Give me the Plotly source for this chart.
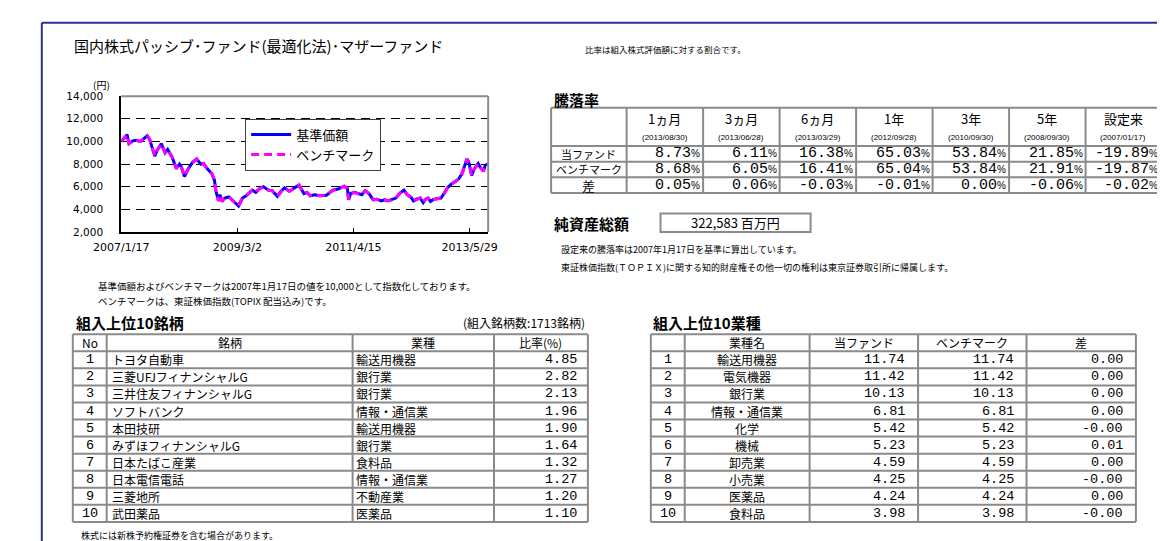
import plotly.graph_objects as go

W, H = 1165, 541
JP = "Noto Sans CJK JP"
NUM = "Liberation Mono"

# ---------------- data ----------------
dates = [
    "2007-01-17", "2007-02-25", "2007-03-10", "2007-04-04", "2007-04-26", "2007-05-26",
    "2007-06-21", "2007-07-10", "2007-07-25", "2007-08-17", "2007-08-29", "2007-09-13",
    "2007-10-11", "2007-11-06", "2007-11-23", "2007-12-23", "2008-01-20", "2008-02-10",
    "2008-02-21", "2008-03-14", "2008-04-09", "2008-05-07", "2008-06-04", "2008-06-30",
    "2008-07-19", "2008-08-12", "2008-09-13", "2008-09-30", "2008-10-10", "2008-10-27",
    "2008-11-06", "2008-11-19", "2008-12-08", "2009-01-05", "2009-01-29", "2009-02-17",
    "2009-03-10", "2009-04-05", "2009-04-29", "2009-06-09", "2009-07-03", "2009-07-29",
    "2009-08-23", "2009-09-25", "2009-10-20", "2009-11-24", "2009-12-18", "2010-01-10",
    "2010-02-12", "2010-03-18", "2010-04-17", "2010-05-20", "2010-06-10", "2010-07-01",
    "2010-08-01", "2010-09-04", "2010-09-30", "2010-10-17", "2010-11-29", "2011-01-03",
    "2011-02-12", "2011-03-06", "2011-03-14", "2011-03-28", "2011-04-23", "2011-05-20",
    "2011-06-10", "2011-07-02", "2011-07-28", "2011-08-25", "2011-09-18", "2011-10-18",
    "2011-11-09", "2011-11-30", "2011-12-27", "2012-01-23", "2012-02-20", "2012-03-17",
    "2012-04-07", "2012-05-01", "2012-05-20", "2012-06-09", "2012-07-03", "2012-07-24",
    "2012-08-09", "2012-08-25", "2012-09-10", "2012-09-28", "2012-10-22", "2012-11-19",
    "2012-12-10", "2013-01-01", "2013-01-24", "2013-02-14", "2013-02-28", "2013-03-18",
    "2013-03-29", "2013-04-08", "2013-04-25", "2013-05-11", "2013-05-23", "2013-06-12",
    "2013-06-28", "2013-07-25", "2013-08-09", "2013-08-30", "2013-09-10", "2013-09-30",
]
fund_nav = [
    10000, 10600, 9800, 10050, 10100, 10000,
    10300, 10500, 10200, 9300, 8700, 9200,
    9800, 9000, 9300, 8600, 7600, 8000,
    7800, 6900, 7600, 8150, 8450, 8000,
    8050, 7600, 7150, 6575, 5600, 4750,
    5300, 4700, 5000, 5100, 4800, 4600,
    4300, 5000, 5200, 5700, 5500, 5850,
    6000, 5700, 5650, 5150, 5600, 5900,
    5600, 5900, 6150, 5400, 5500, 5200,
    5300, 5200, 5207, 5250, 5700, 5800,
    6050, 5850, 4850, 5400, 5500, 5350,
    5300, 5650, 5400, 4850, 4900, 4750,
    4850, 4750, 4850, 5000, 5450, 5700,
    5300, 5100, 4750, 4900, 5000, 4600,
    4900, 5000, 4700, 4854, 4950, 5000,
    5400, 5900, 6200, 6350, 6500, 6700,
    6883, 7150, 7800, 8450, 8200, 7000,
    7550, 8050, 7700, 7368, 7900, 8011,
]
bench_nav = [
    10000, 10590, 9810, 10040, 10090, 10010,
    10290, 10490, 10210, 9310, 8720, 9190,
    9790, 9010, 9290, 8610, 7620, 7990,
    7810, 6920, 7590, 8140, 8440, 8010,
    8040, 7610, 7160, 6580, 5610, 4760,
    5290, 4710, 4990, 5090, 4810, 4610,
    4320, 4990, 5190, 5690, 5510, 5840,
    5990, 5710, 5640, 5160, 5590, 5890,
    5610, 5890, 6140, 5410, 5490, 5210,
    5290, 5210, 5210, 5240, 5690, 5790,
    6040, 5860, 4880, 5390, 5490, 5360,
    5290, 5640, 5410, 4860, 4890, 4760,
    4840, 4760, 4840, 5010, 5440, 5690,
    5310, 5090, 4760, 4890, 5010, 4610,
    4890, 5010, 4710, 4856, 4940, 5010,
    5390, 5890, 6190, 6340, 6510, 6690,
    6879, 7140, 7790, 8440, 8210, 7010,
    7547, 8040, 7710, 7374, 7890, 8014,
]
x_tick_vals = ["2007-01-17", "2009-03-02", "2011-04-15", "2013-05-29"]
x_tick_text = ["2007/1/17", "2009/3/2", "2011/4/15", "2013/5/29"]
y_tick_vals = [2000, 4000, 6000, 8000, 10000, 12000, 14000]
y_tick_text = ["2,000", "4,000", "6,000", "8,000", "10,000", "12,000", "14,000"]
legend_names = ["基準価額", "ベンチマーク"]

periods = ["1ヵ月", "3ヵ月", "6ヵ月", "1年", "3年", "5年", "設定来"]
period_dates = ["(2013/08/30)", "(2013/06/28)", "(2013/03/29)", "(2012/09/28)",
                "(2010/09/30)", "(2008/09/30)", "(2007/01/17)"]
ret_labels = ["当ファンド", "ベンチマーク", "差"]
ret_fund = ["8.73", "6.11", "16.38", "65.03", "53.84", "21.85", "-19.89"]
ret_bench = ["8.68", "6.05", "16.41", "65.04", "53.84", "21.91", "-19.87"]
ret_diff = ["0.05", "0.06", "-0.03", "-0.01", "0.00", "-0.06", "-0.02"]
net_assets = "322,583"

stock_headers = ["No", "銘柄", "業種", "比率(%)"]
stock_no = ["1", "2", "3", "4", "5", "6", "7", "8", "9", "10"]
stock_names = ["トヨタ自動車", "三菱UFJフィナンシャルG", "三井住友フィナンシャルG", "ソフトバンク",
               "本田技研", "みずほフィナンシャルG", "日本たばこ産業", "日本電信電話", "三菱地所", "武田薬品"]
stock_sectors = ["輸送用機器", "銀行業", "銀行業", "情報・通信業", "輸送用機器",
                 "銀行業", "食料品", "情報・通信業", "不動産業", "医薬品"]
stock_weights = ["4.85", "2.82", "2.13", "1.96", "1.90", "1.64", "1.32", "1.27", "1.20", "1.10"]

sector_headers = ["", "業種名", "当ファンド", "ベンチマーク", "差"]
sector_names = ["輸送用機器", "電気機器", "銀行業", "情報・通信業", "化学",
                "機械", "卸売業", "小売業", "医薬品", "食料品"]
sector_fund = ["11.74", "11.42", "10.13", "6.81", "5.42", "5.23", "4.59", "4.25", "4.24", "3.98"]
sector_bench = ["11.74", "11.42", "10.13", "6.81", "5.42", "5.23", "4.59", "4.25", "4.24", "3.98"]
sector_diff = ["0.00", "0.00", "0.00", "0.00", "-0.00", "0.01", "0.00", "-0.00", "0.00", "-0.00"]

# ---------------- helpers ----------------
def px(x):
    return x / W


def py(y):
    return 1 - y / H


annotations = []
shapes = []


def text(x, y, s, size=10, anchor="left", family=JP, color="black"):
    annotations.append(dict(
        x=px(x), y=py(y), xref="paper", yref="paper", text=s, showarrow=False,
        xanchor=anchor, yanchor="middle", font=dict(size=size, family=family, color=color),
        borderpad=0))


def line(x0, y0, x1, y1, color="#8a8a8a", width=2):
    shapes.append(dict(type="line", xref="paper", yref="paper",
                       x0=px(x0), y0=py(y0), x1=px(x1), y1=py(y1),
                       line=dict(color=color, width=width), layer="above"))


def grid(cols, rows):
    for ye in rows:
        line(cols[0], ye, cols[-1], ye)
    for xe in cols:
        line(xe, rows[0], xe, rows[-1])


def cell_text(cols, rows, ci, ri, s, align="center", size=13, family=JP, pad=4):
    yc = (rows[ri] + rows[ri + 1]) / 2
    if align == "center":
        text((cols[ci] + cols[ci + 1]) / 2, yc, s, size, "center", family)
    elif align == "left":
        text(cols[ci] + pad, yc, s, size, "left", family)
    else:
        text(cols[ci + 1] - pad, yc, s, size, "right", family)


# ---------------- figure ----------------
fig = go.Figure()
fig.add_trace(go.Scatter(x=dates, y=fund_nav, mode="lines", name=legend_names[0],
                         line=dict(color="#0000ff", width=3)))
fig.add_trace(go.Scatter(x=dates, y=bench_nav, mode="lines", name=legend_names[1],
                         line=dict(color="#ff00ff", width=3, dash="8px,5px")))

# page frame
line(6, 9, 1165, 9, color="#2e3192", width=2)
line(6, 9, 6, 541, color="#2e3192", width=2)

# chart frame (top/right grey)
shapes.append(dict(type="line", xref="x domain", yref="y domain", x0=0, x1=1, y0=1, y1=1,
                   line=dict(color="#8c8c8c", width=2), layer="above"))
shapes.append(dict(type="line", xref="x domain", yref="y domain", x0=1, x1=1, y0=0, y1=1,
                   line=dict(color="#8c8c8c", width=2), layer="above"))

# texts top
text(38, 32, "国内株式パッシブ･ファンド(最適化法)･マザーファンド", 15)
text(566, 36, "比率は組入株式評価額に対する割合です。", 8.5)
text(58, 72, "(円)", 10)
text(63, 278, "基準価額およびベンチマークは2007年1月17日の値を10,000として指数化しております。", 9.5)
text(63, 294, "ベンチマークは、東証株価指数(TOPIX 配当込み)です。", 9.5)

# 騰落率 table
text(534, 87, "<b>騰落率</b>", 15)
c1 = [532, 610, 689, 768, 847, 926, 1005, 1084, 1162]
r1 = [96, 135, 151, 167, 183]
grid(c1, r1)
for j, (p, d) in enumerate(zip(periods, period_dates)):
    cx = (c1[j + 1] + c1[j + 2]) / 2
    text(cx, 107, p, 13, "center")
    text(cx, 126, d, 8, "center", "Liberation Sans")
for i, lab in enumerate(ret_labels):
    cell_text(c1, r1, 0, i + 1, lab, "center", 11 if i < 2 else 13)
for i, vals in enumerate([ret_fund, ret_bench, ret_diff]):
    for j, v in enumerate(vals):
        cell_text(c1, r1, j + 1, i + 1,
                  v + "<span style='font-size:10px;font-family:Liberation Sans'>%</span>",
                  "right", 15, NUM, 2)

# 純資産総額
text(534, 214, "<b>純資産総額</b>", 15)
shapes.append(dict(type="rect", xref="paper", yref="paper", x0=px(645), x1=px(800),
                   y0=py(223), y1=py(204), line=dict(color="#8a8a8a", width=2), layer="above"))
text(722, 213, net_assets + " 百万円", 13, "center")
text(541, 241, "設定来の騰落率は2007年1月17日を基準に算出しています。", 9)
text(541, 259, "東証株価指数(ＴＯＰＩＸ)に関する知的財産権その他一切の権利は東京証券取引所に帰属します。", 9)

# 組入上位10銘柄
rows_b = [327.5 + 17.45 * k for k in range(12)]
text(40, 315, "<b>組入上位10銘柄</b>", 15)
text(568, 316, "(組入銘柄数:1713銘柄)", 12, "right")
c2 = [38, 73, 327, 473, 570]
grid(c2, rows_b)
for j, h in enumerate(stock_headers):
    cell_text(c2, rows_b, j, 0, h, "center", 12)
for i in range(10):
    cell_text(c2, rows_b, 0, i + 1, stock_no[i], "center", 13.5, NUM)
    cell_text(c2, rows_b, 1, i + 1, stock_names[i], "left", 12, JP, 4)
    cell_text(c2, rows_b, 2, i + 1, stock_sectors[i], "left", 12, JP, 2)
    cell_text(c2, rows_b, 3, i + 1, stock_weights[i], "right", 13.5, NUM, 10)

# 組入上位10業種
text(636, 315, "<b>組入上位10業種</b>", 15)
c3 = [635, 670, 799, 911, 1023, 1136]
grid(c3, rows_b)
for j, h in enumerate(sector_headers):
    cell_text(c3, rows_b, j, 0, h, "center", 12)
for i in range(10):
    cell_text(c3, rows_b, 0, i + 1, stock_no[i], "center", 13.5, NUM)
    cell_text(c3, rows_b, 1, i + 1, sector_names[i], "center", 12, JP)
    cell_text(c3, rows_b, 2, i + 1, sector_fund[i], "right", 13.5, NUM, 12)
    cell_text(c3, rows_b, 3, i + 1, sector_bench[i], "right", 13.5, NUM, 12)
    cell_text(c3, rows_b, 4, i + 1, sector_diff[i], "right", 13.5, NUM, 12)

text(45, 533, "株式には新株予約権証券を含む場合があります。", 9)

fig.update_layout(
    width=W, height=H, autosize=False,
    margin=dict(l=0, r=0, t=0, b=0),
    paper_bgcolor="white", plot_bgcolor="white",
    font=dict(family=JP, color="black"),
    showlegend=True,
    legend=dict(x=px(216), y=py(107), xanchor="left", yanchor="top",
                bgcolor="white", bordercolor="#404040", borderwidth=1,
                font=dict(size=13, family=JP), itemwidth=40, tracegroupgap=0),
    xaxis=dict(type="date", domain=[px(88), px(467)], range=["2007-01-17", "2013-09-30"],
               tickmode="array", tickvals=x_tick_vals, ticktext=x_tick_text,
               ticks="inside", ticklen=4, tickcolor="black", showgrid=False,
               showline=True, linecolor="black", linewidth=2, zeroline=False,
               tickfont=dict(size=11, family="DejaVu Sans"), ticklabelstandoff=4),
    yaxis=dict(domain=[py(223), py(84)], range=[2000, 14000],
               tickmode="array", tickvals=y_tick_vals, ticktext=y_tick_text,
               ticks="", showgrid=True, gridcolor="black", gridwidth=1, griddash="9px,6px",
               showline=True, linecolor="black", linewidth=2, zeroline=False,
               tickfont=dict(size=10.5, family="DejaVu Sans"), ticklabelstandoff=14),
    annotations=annotations,
    shapes=shapes,
)

fig.write_html("out.html")
